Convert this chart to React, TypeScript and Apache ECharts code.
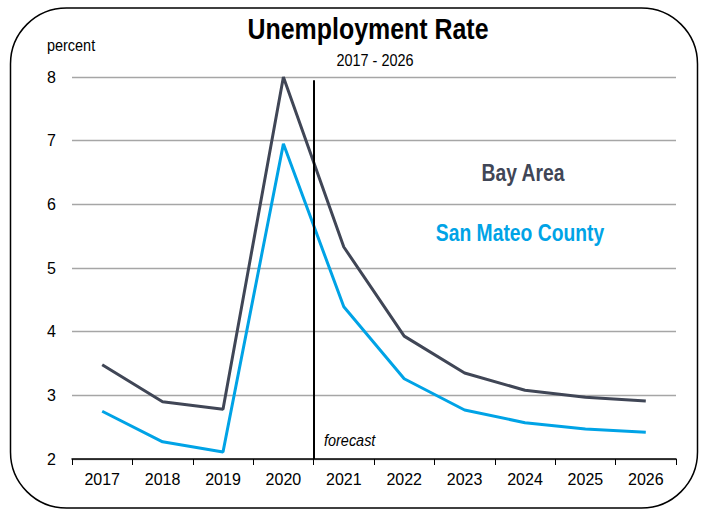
import React, { useEffect, useRef } from "react";
import * as echarts from "echarts";

const years = ["2017", "2018", "2019", "2020", "2021", "2022", "2023", "2024", "2025", "2026"];
const bayArea = [3.48, 2.9, 2.78, 8.0, 5.33, 3.93, 3.35, 3.08, 2.97, 2.91];
const sanMateo = [2.75, 2.27, 2.11, 6.95, 4.39, 3.26, 2.77, 2.57, 2.47, 2.42];
const forecastStart = 4; // boundary between 2020 and 2021

const FONT = "'Liberation Sans', Arial, sans-serif";
const BAY = "#404656";
const SM = "#00a3e6";

export default function App() {
  const ref = useRef<HTMLDivElement>(null);
  useEffect(() => {
    if (!ref.current) return;
    const chart = echarts.init(ref.current, null, { renderer: "svg" });
    chart.setOption({
      animation: false,
      backgroundColor: "#ffffff",
      textStyle: { fontFamily: FONT },
      graphic: [
        {
          type: "rect",
          shape: { x: 10.5, y: 8, width: 687, height: 500, r: 56 },
          style: { fill: "none", stroke: "#000", lineWidth: 1.5 },
          silent: true,
        },
        {
          type: "text",
          x: 368,
          y: 29,
          scaleX: 0.86,
          style: {
            text: "Unemployment Rate",
            fontSize: 29,
            fontWeight: "bold",
            fill: "#000",
            fontFamily: FONT,
            align: "center",
            verticalAlign: "middle",
          },
        },
        {
          type: "text",
          x: 375,
          y: 60,
          scaleX: 0.85,
          style: {
            text: "2017 - 2026",
            fontSize: 17,
            fill: "#000",
            fontFamily: FONT,
            align: "center",
            verticalAlign: "middle",
          },
        },
        {
          type: "text",
          x: 47,
          y: 45,
          scaleX: 0.85,
          style: { text: "percent", fontSize: 17, fill: "#000", fontFamily: FONT, verticalAlign: "middle" },
        },
        {
          type: "text",
          x: 523,
          y: 173,
          scaleX: 0.84,
          style: {
            text: "Bay Area",
            fontSize: 23,
            fontWeight: "bold",
            fill: BAY,
            fontFamily: FONT,
            align: "center",
            verticalAlign: "middle",
          },
        },
        {
          type: "text",
          x: 520,
          y: 233,
          scaleX: 0.84,
          style: {
            text: "San Mateo County",
            fontSize: 23,
            fontWeight: "bold",
            fill: SM,
            fontFamily: FONT,
            align: "center",
            verticalAlign: "middle",
          },
        },
        {
          type: "text",
          x: 324,
          y: 440,
          scaleX: 0.85,
          style: {
            text: "forecast",
            fontSize: 17,
            fontStyle: "italic",
            fill: "#000",
            fontFamily: FONT,
            verticalAlign: "middle",
          },
        },
      ],
      grid: { left: 72, right: 32, top: 77, bottom: 55 },
      xAxis: [
        {
          type: "category",
          data: years,
          boundaryGap: true,
          axisLine: { lineStyle: { color: "#000", width: 1.5 } },
          axisTick: { show: true, length: 6, inside: false, lineStyle: { color: "#000" } },
          axisLabel: { color: "#000", fontSize: 16, margin: 12, fontFamily: FONT },
          splitLine: { show: false },
        },
        {
          type: "value",
          min: 0,
          max: 10,
          show: false,
          position: "bottom",
        },
      ],
      yAxis: {
        type: "value",
        min: 2,
        max: 8,
        interval: 1,
        axisLine: { show: false },
        axisTick: { show: false },
        axisLabel: { color: "#000", fontSize: 16, margin: 16, fontFamily: FONT },
        splitLine: { lineStyle: { color: "#a6a6a6", width: 1.3 } },
      },
      series: [
        {
          name: "Bay Area",
          type: "line",
          data: bayArea,
          symbol: "none",
          lineStyle: { color: BAY, width: 3 },
          z: 3,
        },
        {
          name: "San Mateo County",
          type: "line",
          data: sanMateo,
          symbol: "none",
          lineStyle: { color: SM, width: 3 },
          z: 3,
        },
        {
          name: "forecast",
          type: "line",
          xAxisIndex: 1,
          data: [],
          markLine: {
            silent: true,
            symbol: "none",
            label: { show: false },
            lineStyle: { color: "#000", width: 2, type: "solid" },
            data: [[{ coord: [forecastStart, 7.95] }, { coord: [forecastStart, 2] }]],
          },
          z: 4,
        },
      ],
    });
    return () => chart.dispose();
  }, []);
  return <div ref={ref} style={{ width: 708, height: 514, position: "absolute", left: 0, top: 0 }} />;
}
